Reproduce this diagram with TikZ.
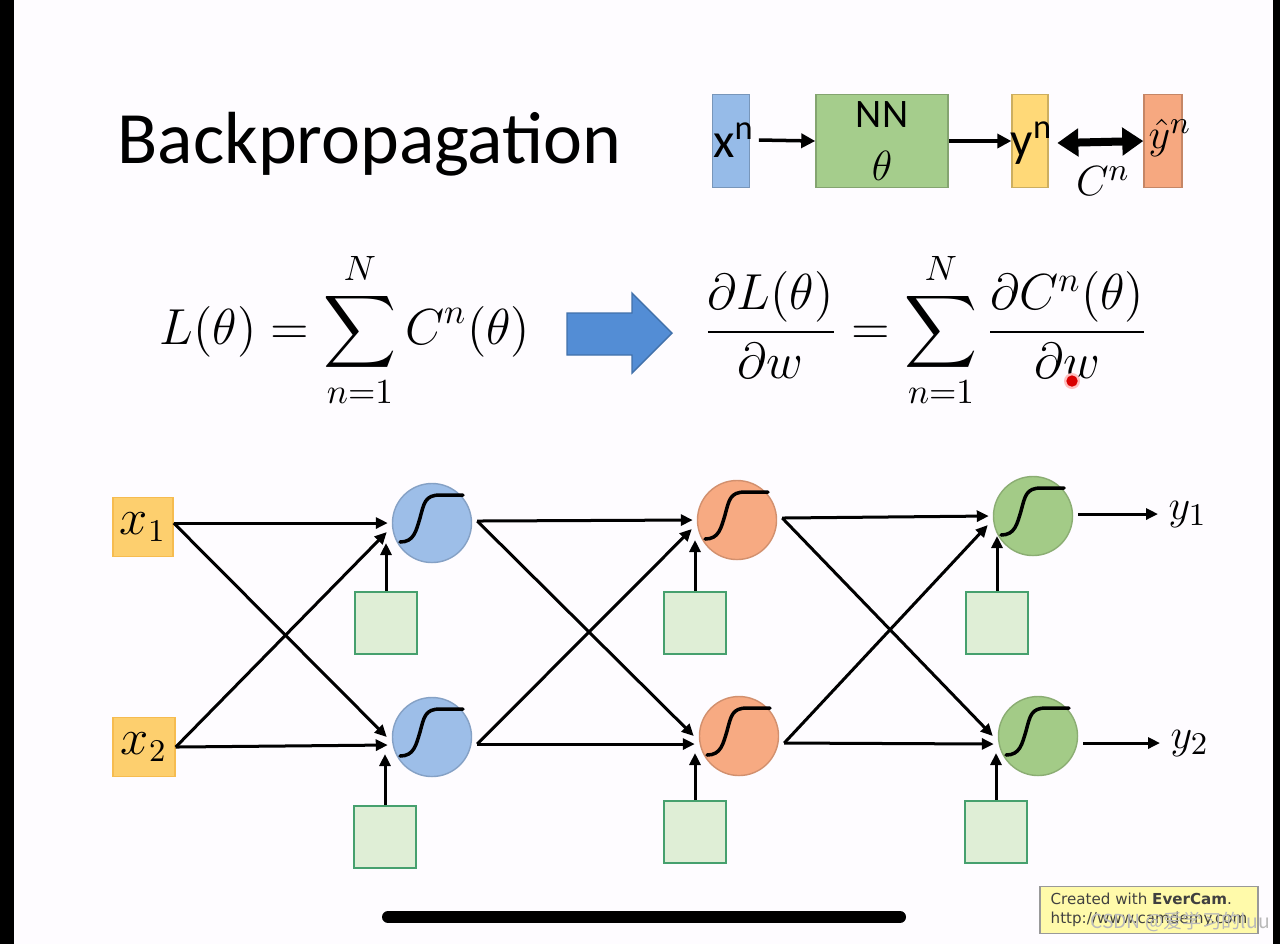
\documentclass[tikz,border=0pt]{standalone}
\usepackage{amsmath}
\usepackage[no-math]{fontspec}
\setmainfont{Carlito}
\newfontfamily\evfont{DejaVu Sans}
\newfontfamily\cjk{Noto Sans CJK SC}
\usetikzlibrary{arrows.meta,positioning,calc}

\definecolor{pagebg}{RGB}{254,252,255}
\definecolor{neuBlue}{RGB}{157,190,232}
\definecolor{neuOrange}{RGB}{247,170,130}
\definecolor{neuGreen}{RGB}{163,203,135}
\definecolor{biasFill}{RGB}{223,238,214}
\definecolor{biasLine}{RGB}{70,160,110}
\definecolor{inFill}{RGB}{253,207,110}
\definecolor{inLine}{RGB}{246,188,80}
\definecolor{xnFill}{RGB}{150,187,232}
\definecolor{nnFill}{RGB}{165,205,140}
\definecolor{yFill}{RGB}{255,217,120}
\definecolor{yhatFill}{RGB}{246,168,128}
\definecolor{arrowBlue}{RGB}{83,141,213}
\definecolor{everFill}{RGB}{255,250,170}

% sigmoid drawn inside a neuron
\newcommand{\sigm}[1]{\draw[sig] ($(#1)+(-32,19)$) .. controls ($(#1)+(-18,19)$) and ($(#1)+(-16,8)$) .. ($(#1)+(-12,-5)$)
  .. controls ($(#1)+(-8,-20)$) and ($(#1)+(-7,-28)$) .. ($(#1)+(8,-28)$) -- ($(#1)+(31,-28)$);}

\begin{document}
\begin{tikzpicture}[x=0.01cm, y=-0.01cm,
  neuron/.style={circle, fill=#1, draw=#1!85!black, line width=0.4pt, minimum size=7.9mm, inner sep=0pt},
  bias/.style={draw=biasLine, fill=biasFill, line width=0.6pt, minimum size=6.2mm, inner sep=0pt},
  inbox/.style={draw=inLine, fill=inFill, line width=0.4pt, minimum width=6mm, minimum height=5.9mm, inner sep=0pt, font=\fontsize{13.5}{15}\selectfont},
  topbox/.style={draw=#1!80!black, fill=#1, line width=0.4pt, minimum width=3.7mm, minimum height=9.3mm, inner sep=0pt},
  toplab/.style={font=\fontsize{14}{16}\selectfont, inner sep=1pt},
  outlab/.style={font=\fontsize{13}{15}\selectfont, inner sep=1mm, anchor=west},
  eq/.style={font=\fontsize{14}{17}\selectfont, inner sep=0pt},
  wire/.style={-{Triangle[length=1.2mm,width=1.1mm]}, line width=0.3mm},
  toparrow/.style={-{Triangle[length=1.4mm,width=1.4mm]}, line width=0.35mm},
  sig/.style={line width=0.35mm, line cap=round}
]
\useasboundingbox (0,0) rectangle (1280,944);
\fill[pagebg] (0,0) rectangle (1280,944);
\fill[black] (0,0) rectangle (14,944);
\fill[black] (1273,0) rectangle (1280,944);

% title and the per-example pipeline
\node[anchor=base west, inner sep=0pt, font=\fontsize{21}{25}\selectfont] (title) at (117,163) {Backpropagation};

\node[topbox=xnFill] (xn) at (731,141) {};
\node[toplab] (xnlab) at (734,140) {x\textsuperscript{n}};
\node[topbox=nnFill, minimum width=13.2mm, align=center, font=\fontsize{11.5}{15}\selectfont] (nn) at (882,141) {NN\\$\theta$};
\node[topbox=yFill, minimum width=3.6mm] (yn) at (1030,141) {};
\node[toplab] (ynlab) at (1032,143) {y\textsuperscript{n}};
\node[topbox=yhatFill, minimum width=3.8mm] (yhat) at (1163,141) {};
\node[toplab, font=\fontsize{13}{15}\selectfont] (yhatlab) at (1170,138) {$\hat{y}^n$};
\node[font=\fontsize{12.5}{14}\selectfont] (cost) at (1103,181) {$C^n$};

\draw[toparrow] (xnlab.east) -- (nn.west);
\draw[toparrow] (nn.east) -- (yn.west);
\draw[{Triangle[length=2.1mm,width=2.7mm]}-{Triangle[length=2.1mm,width=2.7mm]}, line width=0.8mm] (ynlab.east) -- (yhat.west);

% total loss and its gradient
\node[eq] (loss) at (345,330) {$\displaystyle L(\theta)=\sum_{n=1}^{N}C^n(\theta)$};
\fill[arrowBlue, draw=arrowBlue!80!black, line width=0.4pt] (567,313) -- (632,313) -- (632,293) -- (672,333) -- (632,373) -- (632,355) -- (567,355) -- cycle;
\node[eq] (grad) at (926,330) {$\displaystyle \frac{\partial L(\theta)}{\partial w}=\sum_{n=1}^{N}\frac{\partial C^n(\theta)}{\partial w}$};
\fill[red!25] (1072,381) circle (0.8mm);
\draw[red!85!black, line width=0.5mm] (1072,381) circle (0.3mm);

% network
\node[inbox] (x1) at (143,527) {$x_1$};
\node[inbox, minimum width=6.2mm] (x2) at (144,747) {$x_2$};

\node[neuron=neuBlue] (l1a) at (432,523) {};
\node[neuron=neuBlue] (l1b) at (432,737) {};
\node[neuron=neuOrange] (l2a) at (737,520) {};
\node[neuron=neuOrange] (l2b) at (739,736) {};
\node[neuron=neuGreen] (l3a) at (1033,516) {};
\node[neuron=neuGreen] (l3b) at (1038,736) {};

\node[bias] (bl1a) at (386,623) {};
\node[bias] (bl1b) at (385,837) {};
\node[bias] (bl2a) at (695,623) {};
\node[bias] (bl2b) at (695,832) {};
\node[bias] (bl3a) at (997,623) {};
\node[bias] (bl3b) at (996,832) {};

\coordinate (x1-o) at ($(x1.east)+(0,-4)$);
\coordinate (x2-o) at (x2.east);
\foreach \n in {l1a,l2a,l3a} {
  \coordinate (\n-h) at ($(\n.west)+(-4,0)$);
  \coordinate (\n-d) at ($(\n.west)+(-5,9)$);
  \coordinate (\n-b) at ($(\n.west)+(-6,20)$);
  \coordinate (\n-o) at ($(\n.east)+(5,-2)$);
}
\foreach \n in {l1b,l2b,l3b} {
  \coordinate (\n-h) at ($(\n.west)+(-4,8)$);
  \coordinate (\n-d) at ($(\n.west)+(-5,0)$);
  \coordinate (\n-b) at ($(\n.west)+(-6,17)$);
  \coordinate (\n-o) at ($(\n.east)+(5,7)$);
}

\foreach \s/\t in {x1/l1a, x2/l1b, l1a/l2a, l1b/l2b, l2a/l3a, l2b/l3b}
  \draw[wire] (\s-o) -- (\t-h);
\foreach \s/\t in {x1/l1b, x2/l1a, l1a/l2b, l1b/l2a, l2a/l3b, l2b/l3a}
  \draw[wire] (\s-o) -- (\t-d);

\foreach \n in {l1a,l1b,l2a,l2b,l3a,l3b} {
  \draw[wire] (b\n.north) -- (b\n.north |- \n-b);
  \sigm{\n}
}

\node[outlab] (y1) at (1158,514) {$y_1$};
\node[outlab] (y2) at (1160,743) {$y_2$};
\draw[wire] (l3a-o) -- (y1.west);
\draw[wire] (l3b-o) -- (y2.west);

% recorder overlay
\draw[line width=1.2mm, line cap=round] (388,917) -- (900,917);
\node[draw=gray!80, fill=everFill, line width=0.5pt, minimum width=21.8mm, minimum height=4.7mm, inner sep=0pt, align=left, font=\evfont\fontsize{4.3}{5.4}\selectfont, text=black!75] (evercam) at (1149,910)
  {Created with \textbf{EverCam}.\\http://www.camdemy.com};
\node[font=\cjk\fontsize{5.5}{6.5}\selectfont, text=gray!55] (mark) at (1180,922) {CSDN @爱学习的luu};
\end{tikzpicture}
\end{document}
